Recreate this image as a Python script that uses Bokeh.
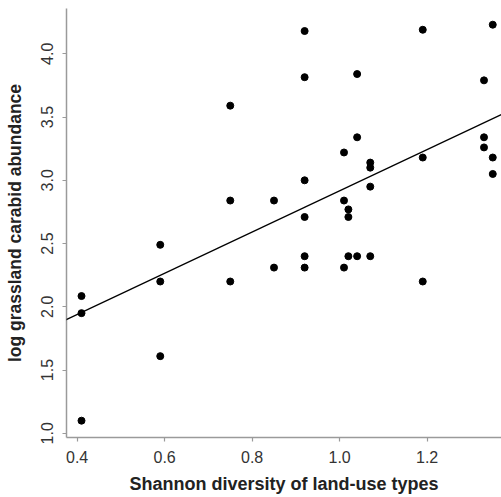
from bokeh.plotting import figure
from bokeh.models import Range1d, FixedTicker, Slope
from bokeh.embed import file_html
from bokeh.resources import INLINE

# Data
shannon = [0.41, 0.41, 0.41,
           0.59, 0.59, 0.59,
           0.75, 0.75, 0.75,
           0.85, 0.85,
           0.92, 0.92, 0.92, 0.92, 0.92, 0.92,
           1.01, 1.01, 1.01,
           1.02, 1.02, 1.02,
           1.04, 1.04, 1.04,
           1.07, 1.07, 1.07, 1.07,
           1.19, 1.19, 1.19,
           1.33, 1.33, 1.33,
           1.35, 1.35, 1.35]
log_abundance = [2.085, 1.95, 1.10,
                 2.49, 2.20, 1.61,
                 3.59, 2.84, 2.20,
                 2.84, 2.31,
                 4.18, 3.815, 3.00, 2.71, 2.40, 2.31,
                 3.22, 2.84, 2.31,
                 2.77, 2.71, 2.40,
                 3.84, 3.34, 2.40,
                 3.14, 3.10, 2.95, 2.40,
                 4.19, 3.18, 2.20,
                 3.79, 3.34, 3.26,
                 4.23, 3.18, 3.05]

fit_intercept = 1.287
fit_slope = 1.63

x_ticks = [0.4, 0.6, 0.8, 1.0, 1.2]
x_tick_labels = ["0.4", "0.6", "0.8", "1.0", "1.2"]
y_ticks = [1.0, 1.5, 2.0, 2.5, 3.0, 3.5, 4.0]
y_tick_labels = ["1.0", "1.5", "2.0", "2.5", "3.0", "3.5", "4.0"]

x_label = "Shannon diversity of land-use types"
y_label = "log grassland carabid abundance"

p = figure(width=501, height=497, output_backend="svg", toolbar_location=None,
           x_range=Range1d(0.3757, 1.370), y_range=Range1d(0.967, 4.358),
           min_border_left=66, min_border_right=0, min_border_top=8,
           min_border_bottom=60)
p.outline_line_color = None
p.xgrid.visible = False
p.ygrid.visible = False
p.background_fill_color = "white"
p.border_fill_color = "white"

font = "Liberation Sans"
for ax in (p.xaxis[0], p.yaxis[0]):
    ax.axis_line_color = "#9a9a9a"
    ax.axis_line_width = 1.5
    ax.major_tick_line_color = "#9a9a9a"
    ax.major_tick_line_width = 1.2
    ax.major_tick_out = 4
    ax.major_tick_in = 0
    ax.minor_tick_line_color = None
    ax.major_label_text_font = font
    ax.major_label_text_font_size = "16px"
    ax.major_label_text_color = "#333333"
    ax.axis_label_text_font = font
    ax.axis_label_text_font_style = "bold"
    ax.axis_label_text_color = "#222222"

p.xaxis[0].axis_label_text_font_size = "18px"
p.yaxis[0].axis_label_text_font_size = "17.5px"
p.xaxis[0].ticker = FixedTicker(ticks=x_ticks)
p.xaxis[0].major_label_overrides = dict(zip(x_ticks, x_tick_labels))
p.yaxis[0].ticker = FixedTicker(ticks=y_ticks)
p.yaxis[0].major_label_overrides = dict(zip(y_ticks, y_tick_labels))
p.yaxis[0].major_label_orientation = "vertical"
p.xaxis[0].axis_label = x_label
p.yaxis[0].axis_label = y_label
p.xaxis[0].major_label_standoff = 9
p.xaxis[0].axis_label_standoff = 8
p.yaxis[0].major_label_standoff = 9
p.yaxis[0].axis_label_standoff = 14

p.add_layout(Slope(gradient=fit_slope, y_intercept=fit_intercept,
                   line_color="black", line_width=1.5))
p.scatter(shannon, log_abundance, size=7, color="black")

open("out.html", "w").write(file_html(p, INLINE))
